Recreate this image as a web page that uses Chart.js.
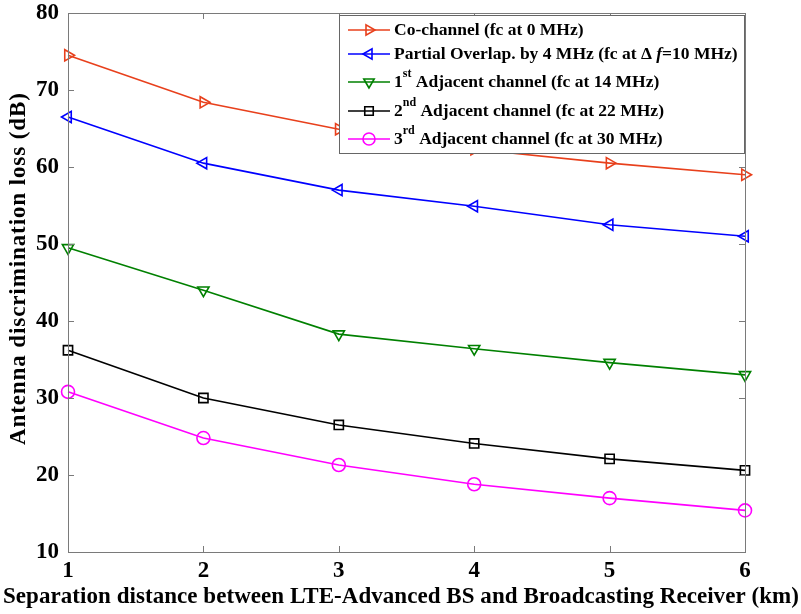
<!DOCTYPE html>
<html>
<head>
<meta charset="utf-8">
<script src="https://cdn.jsdelivr.net/npm/chart.js@4/dist/chart.umd.min.js"></script>
<style>
  html, body { margin: 0; padding: 0; background: #fff; }
  #wrap { width: 801px; height: 614px; }
</style>
</head>
<body>
<div id="wrap"><canvas id="chart" width="801" height="614"></canvas></div>
<script>
var distances = [1, 2, 3, 4, 5, 6];
var yTicks = [10, 20, 30, 40, 50, 60, 70, 80];

var coChannel  = [74.5, 68.4, 64.9, 62.3, 60.5, 59.0];
var partial    = [66.5, 60.5, 57.0, 54.9, 52.5, 51.0];
var adjacent1  = [49.5, 44.0, 38.3, 36.4, 34.6, 33.0];
var adjacent2  = [36.2, 30.0, 26.5, 24.1, 22.1, 20.6];
var adjacent3  = [30.8, 24.8, 21.3, 18.8, 17.0, 15.4];

var seriesNames = [
	[["Co-channel (fc at 0 MHz)", ""]],
	[["Partial Overlap. by 4 MHz (fc at \u0394 ", ""], ["f", "i"], ["=10 MHz)", ""]],
	[["1", ""], ["st", "s"], [" Adjacent channel (fc at 14 MHz)", ""]],
	[["2", ""], ["nd", "s"], [" Adjacent channel (fc at 22 MHz)", ""]],
	[["3", ""], ["rd", "s"], [" Adjacent channel (fc at 30 MHz)", ""]]
];

var xTitle = 'Separation distance between LTE-Advanced BS and Broadcasting Receiver (km)';
var yTitle = 'Antenna discrimination loss (dB)';

var FONT = "'Liberation Serif', 'Times New Roman', serif";

function toPoints(vals){
	return distances.map(function(d, i){ return {x: d, y: vals[i]}; });
}

function makeSet(vals, color, style, rot){
	return {
		data: toPoints(vals),
		borderColor: color,
		backgroundColor: color,
		borderWidth: 1.6,
		pointStyle: style,
		rotation: rot,
		pointRadius: 6.5,
		pointBorderWidth: 1.6,
		pointBackgroundColor: 'rgba(0,0,0,0)',
		pointBorderColor: color,
		tension: 0,
		clip: false
	};
}

var datasets = [
	makeSet(coChannel, '#e8401c', 'triangle', 90),
	makeSet(partial, '#0000ff', 'triangle', -90),
	makeSet(adjacent1, '#008000', 'triangle', 180),
	makeSet(adjacent2, '#000000', 'rect', 0),
	makeSet(adjacent3, '#ff00ff', 'circle', 0)
];

// stretch a title so it spans a given length
function spacedText(ctx, txt, x, y, len){
	ctx.letterSpacing = '0px';
	var w = ctx.measureText(txt).width;
	ctx.letterSpacing = ((len - w) / (txt.length - 1)).toFixed(2) + 'px';
	ctx.fillText(txt, x, y);
	ctx.letterSpacing = '0px';
}

// box around the plot with inward tick marks, plus axis titles
var frame = {
	id: 'frame',
	afterDatasetsDraw: function(chart){
		var ctx = chart.ctx, a = chart.chartArea;
		var xs = chart.scales.x, ys = chart.scales.y;
		ctx.save();
		ctx.strokeStyle = '#7a7a7a';
		ctx.lineWidth = 1;
		ctx.strokeRect(a.left + 0.5, a.top + 0.5, a.right - a.left, a.bottom - a.top);
		var t = 6;
		ctx.beginPath();
		distances.forEach(function(d){
			var px = Math.round(xs.getPixelForValue(d)) + 0.5;
			ctx.moveTo(px, a.bottom); ctx.lineTo(px, a.bottom - t);
			ctx.moveTo(px, a.top); ctx.lineTo(px, a.top + t);
		});
		yTicks.forEach(function(v){
			var py = Math.round(ys.getPixelForValue(v)) + 0.5;
			ctx.moveTo(a.left, py); ctx.lineTo(a.left + t, py);
			ctx.moveTo(a.right, py); ctx.lineTo(a.right - t, py);
		});
		ctx.stroke();

		ctx.fillStyle = '#000';
		ctx.textBaseline = 'alphabetic';
		ctx.textAlign = 'left';
		ctx.font = 'bold 23px ' + FONT;
		spacedText(ctx, xTitle, 3, 603, 796);

		ctx.translate(25, 445);
		ctx.rotate(-Math.PI / 2);
		ctx.font = 'bold 23px ' + FONT;
		spacedText(ctx, yTitle, 0, 0, 352);
		ctx.restore();
	}
};

// legend with superscripts, drawn inside the plot
var legendBox = {
	id: 'legendBox',
	afterDraw: function(chart){
		var ctx = chart.ctx, a = chart.chartArea;
		var bx = 339, by = 15, bw = a.right - 1 - bx, bh = 138;
		ctx.save();
		ctx.fillStyle = '#fff';
		ctx.fillRect(bx, by, bw, bh);
		ctx.strokeStyle = '#666';
		ctx.lineWidth = 1;
		ctx.strokeRect(bx + 0.5, by + 0.5, bw, bh);
		var rows = [30, 54, 82, 111, 139];
		chart.data.datasets.forEach(function(ds, i){
			var y = rows[i];
			ctx.strokeStyle = ds.borderColor;
			ctx.fillStyle = 'rgba(0,0,0,0)';
			ctx.lineWidth = 1.6;
			ctx.beginPath();
			ctx.moveTo(348, y); ctx.lineTo(390, y);
			ctx.stroke();
			Chart.helpers.drawPoint(ctx, {
				pointStyle: ds.pointStyle, rotation: ds.rotation,
				radius: 6, borderWidth: 1.6
			}, 369, y);
			var x = 394;
			ctx.fillStyle = '#000';
			ctx.textBaseline = 'middle';
			seriesNames[i].forEach(function(part){
				var txt = part[0], kind = part[1];
				if (kind === 's') {
					ctx.font = 'bold 12px ' + FONT;
					ctx.fillText(txt, x, y - 8);
				} else if (kind === 'i') {
					ctx.font = 'italic bold 17.5px ' + FONT;
					ctx.fillText(txt, x, y);
				} else {
					ctx.font = 'bold 17.5px ' + FONT;
					ctx.fillText(txt, x, y);
				}
				x += ctx.measureText(txt).width;
			});
		});
		ctx.restore();
	}
};

new Chart(document.getElementById('chart').getContext('2d'), {
	type: 'line',
	data: { datasets: datasets },
	options: {
		responsive: false,
		animation: false,
		layout: { padding: { top: 13, right: 56, bottom: 4, left: 4 } },
		plugins: {
			legend: { display: false },
			tooltip: { enabled: false }
		},
		scales: {
			x: {
				type: 'linear',
				min: 1, max: 6,
				grid: { display: false, drawTicks: false },
				border: { display: false },
				ticks: {
					stepSize: 1, padding: 5, color: '#000',
					font: { family: FONT, size: 23, weight: 'bold' }
				},
				afterFit: function(s){ s.height = 58; s.paddingLeft = 0; s.paddingRight = 0; }
			},
			y: {
				min: 10, max: 80,
				grid: { display: false, drawTicks: false },
				border: { display: false },
				ticks: {
					stepSize: 10, padding: 9, color: '#000',
					font: { family: FONT, size: 23, weight: 'bold' }
				},
				afterFit: function(s){ s.width = 64; s.paddingTop = 0; s.paddingBottom = 0; }
			}
		}
	},
	plugins: [frame, legendBox]
});
</script>
</body>
</html>
